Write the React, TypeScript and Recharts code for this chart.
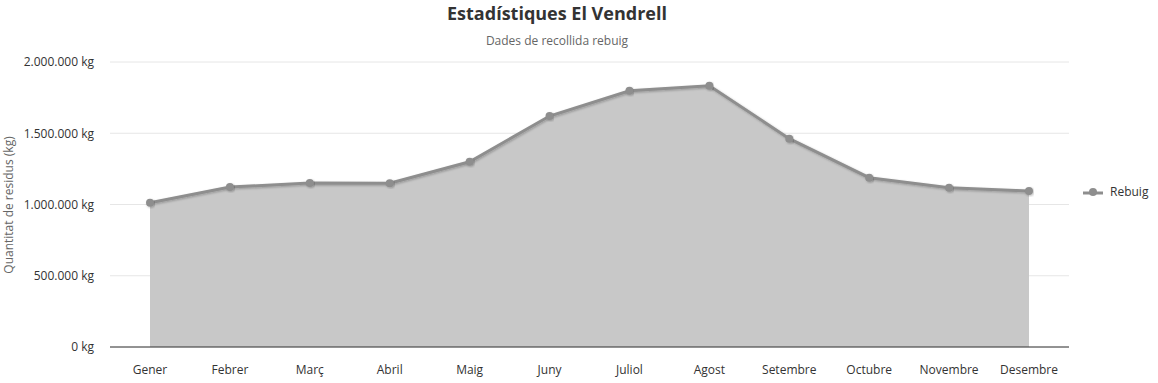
import React from 'react';
import { ComposedChart, Area, Line, XAxis, YAxis, CartesianGrid } from 'recharts';

const months = ['Gener', 'Febrer', 'Març', 'Abril', 'Maig', 'Juny', 'Juliol', 'Agost', 'Setembre', 'Octubre', 'Novembre', 'Desembre'];
const rebuig = [1012000, 1122000, 1151000, 1149000, 1300000, 1621000, 1798000, 1834000, 1462000, 1188000, 1118000, 1095000];
const yTicks = [0, 500000, 1000000, 1500000, 2000000];

const data = months.map((m, i) => ({ month: m, rebuig: rebuig[i] }));

const FONT = '"Open Sans", "Noto Sans", sans-serif';

const fmt = (v: number) => `${String(v).replace(/\B(?=(\d{3})+(?!\d))/g, '.')} kg`;

const App = () => {
  return (
    <div style={{ position: 'relative', width: 1158, height: 383, fontFamily: FONT, background: '#fff' }}>
      <style>{'body{margin:0}'}</style>
      <div style={{ position: 'absolute', left: 0, width: 1114, top: 1, textAlign: 'center', fontSize: 18, fontWeight: 700, color: '#333' }}>
        Estadístiques El Vendrell
      </div>
      <div style={{ position: 'absolute', left: 0, width: 1114, top: 32, textAlign: 'center', fontSize: 12, color: '#666' }}>
        Dades de recollida rebuig
      </div>
      <div
        style={{
          position: 'absolute', left: 8, top: 205, fontSize: 12, color: '#666', whiteSpace: 'nowrap',
          transform: 'translate(-50%, -50%) rotate(-90deg)',
        }}
      >
        Quantitat de residus (kg)
      </div>
      <ComposedChart width={1158} height={383} data={data} margin={{ top: 62, right: 89, bottom: 0, left: 0 }}>
        <defs>
          <filter id="lineShadow" x="-5%" y="-20%" width="110%" height="140%">
            <feDropShadow dx="1" dy="1" stdDeviation="1.2" floodColor="#000" floodOpacity="0.25" />
          </filter>
        </defs>
        <CartesianGrid vertical={false} stroke="#e6e6e6" />
        <XAxis
          dataKey="month"
          padding={{ left: 40, right: 40 }}
          height={36}
          axisLine={{ stroke: '#333' }}
          tickLine={false}
          tickMargin={12}
          tick={{ fill: '#333', fontSize: 12, fontFamily: FONT }}
          interval={0}
        />
        <YAxis
          width={110}
          domain={[0, 2000000]}
          ticks={yTicks}
          tickFormatter={fmt}
          axisLine={false}
          tickLine={false}
          tickSize={0}
          tickMargin={16}
          tick={{ fill: '#333', fontSize: 12, fontFamily: FONT }}
        />
        <Area type="linear" dataKey="rebuig" fill="#c8c8c8" fillOpacity={1} stroke="none" isAnimationActive={false} />
        <Line
          type="linear"
          dataKey="rebuig"
          stroke="#8e8e8e"
          strokeWidth={3}
          dot={{ r: 4, fill: '#8e8e8e', stroke: 'none' }}
          activeDot={false}
          filter="url(#lineShadow)"
          isAnimationActive={false}
        />
      </ComposedChart>
      <div style={{ position: 'absolute', left: 1083, top: 183, display: 'flex', alignItems: 'center', fontSize: 12, color: '#333' }}>
        <svg width={20} height={16} style={{ marginRight: 7 }}>
          <line x1={0} y1={9} x2={20} y2={9} stroke="#8e8e8e" strokeWidth={3} />
          <circle cx={10} cy={8} r={4} fill="#8e8e8e" />
        </svg>
        <span>Rebuig</span>
      </div>
    </div>
  );
};

export default App;
